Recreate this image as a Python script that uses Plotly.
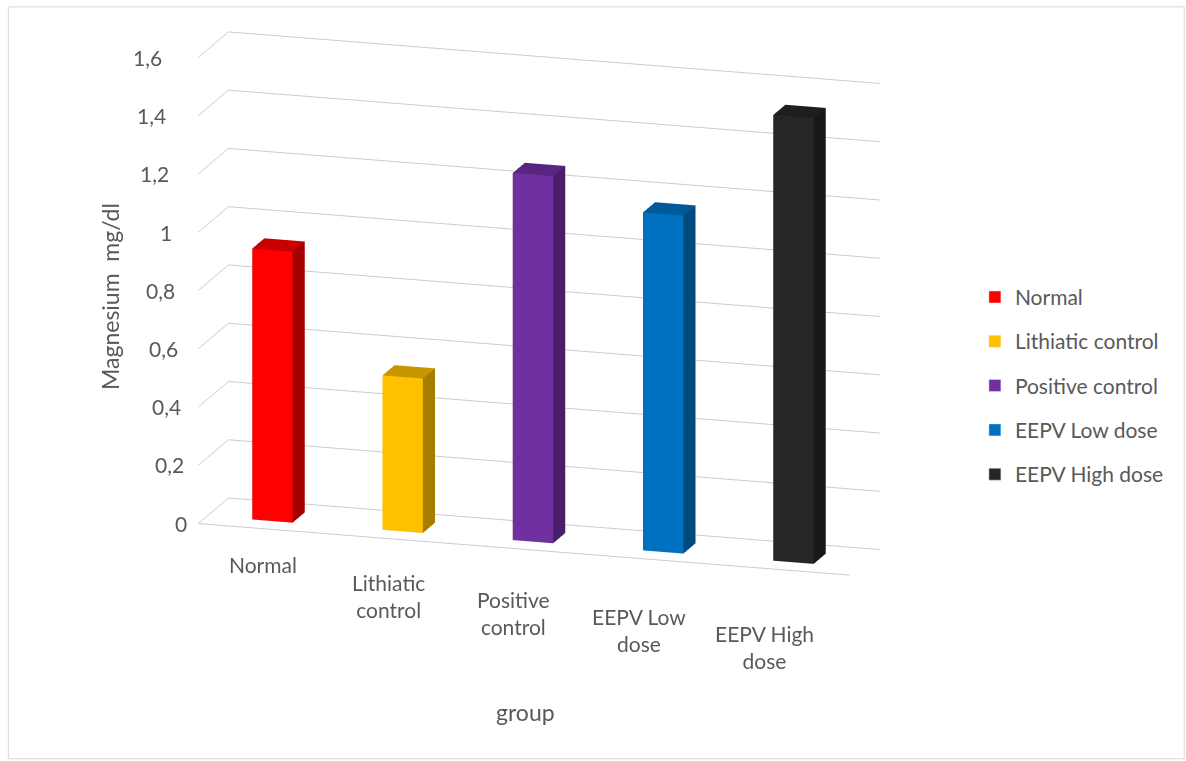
import math
import plotly.graph_objects as go

categories = ["Normal", "Lithiatic control", "Positive control", "EEPV Low dose", "EEPV High dose"]
tick_labels = ["Normal", "Lithiatic<br>control", "Positive<br>control", "EEPV Low<br>dose", "EEPV High<br>dose"]
values = [0.93, 0.53, 1.26, 1.16, 1.53]
front_colors = ["#FF0000", "#FFC000", "#7030A0", "#0070C0", "#262626"]
side_colors = ["#A50000", "#A67D00", "#4A1F69", "#004A7D", "#181818"]
top_colors = ["#C80000", "#C89600", "#582680", "#005A9A", "#1E1E1E"]
y_ticks = [0, 0.2, 0.4, 0.6, 0.8, 1.0, 1.2, 1.4, 1.6]
y_tick_text = ["0", "0,2", "0,4", "0,6", "0,8", "1", "1,2", "1,4", "1,6"]

BAR_W = 0.31
D0, D1 = 0.3, 0.7
TXT = "#595959"
FONT = "Lato"

fig = go.Figure()

tri_i = [0, 0, 3, 3, 0, 0, 1, 1, 4, 4, 0, 0]
tri_j = [1, 5, 2, 6, 3, 7, 2, 6, 5, 6, 1, 2]
tri_k = [5, 4, 6, 7, 7, 4, 6, 5, 6, 7, 2, 3]
roles = ["front", "front", "back", "back", "left", "left", "right", "right", "top", "top", "bottom", "bottom"]

for idx, (cat, v) in enumerate(zip(categories, values)):
    x0, x1 = idx - BAR_W / 2, idx + BAR_W / 2
    xs = [x0, x1, x1, x0, x0, x1, x1, x0]
    ys = [D0, D0, D1, D1, D0, D0, D1, D1]
    zs = [0, 0, 0, 0, v, v, v, v]
    fc = [front_colors[idx] if r == "front" else top_colors[idx] if r == "top" else side_colors[idx]
          for r in roles]
    fig.add_trace(go.Mesh3d(
        x=xs, y=ys, z=zs, i=tri_i, j=tri_j, k=tri_k,
        facecolor=fc, flatshading=True, showlegend=False, name=cat,
        lighting=dict(ambient=1.0, diffuse=0.0, specular=0.0, fresnel=0.0, roughness=1.0),
        hoverinfo="skip", scene="scene",
    ))

for idx, cat in enumerate(categories):
    fig.add_trace(go.Bar(x=[None], y=[None], name=cat, marker_color=front_colors[idx],
                         legendgroup=cat, xaxis="x", yaxis="y"))

ann3d = []
for idx, lab in enumerate(tick_labels):
    ann3d.append(dict(x=idx, y=0, z=0, text=lab, showarrow=False, yanchor="top", xanchor="center",
                      yshift=-22 - 7 * idx, xshift=-5 * idx,
                      font=dict(size=21, color=TXT, family=FONT)))
for k, (tv, tt) in enumerate(zip(y_ticks, y_tick_text)):
    ann3d.append(dict(x=-0.5, y=0, z=tv, text=tt, showarrow=False, xanchor="right", yanchor="middle",
                      xshift=-9 - 3.1 * k, font=dict(size=21, color=TXT, family=FONT)))

axis_common = dict(showbackground=False, showspikes=False, zeroline=False, title=dict(text=""))

phi = math.radians(17)
elev = math.radians(15)
dist = 1.8
eye = dict(x=dist * math.sin(phi) * math.cos(elev), y=-dist * math.cos(phi) * math.cos(elev),
           z=dist * math.sin(elev))

fig.update_layout(
    width=1186, height=761,
    margin=dict(l=0, r=0, t=0, b=0),
    paper_bgcolor="white", plot_bgcolor="white",
    font=dict(family=FONT, color=TXT, size=21),
    xaxis=dict(visible=False, domain=[0.95, 0.96]),
    yaxis=dict(visible=False, domain=[0.95, 0.96]),
    scene=dict(
        domain=dict(x=[0.0, 0.909], y=[0.203, 1.0]),
        xaxis=dict(range=[-0.5, 4.5], showgrid=False, showticklabels=False, showline=True,
                   linecolor="#CCCCCC", linewidth=2, **axis_common),
        yaxis=dict(range=[0, 1], showgrid=False, showticklabels=False, showline=False, **axis_common),
        zaxis=dict(range=[0, 1.6], tickvals=y_ticks, showgrid=True,
                   gridcolor="#CCCCCC", gridwidth=2, showline=False, showticklabels=False, **axis_common),
        aspectmode="manual", aspectratio=dict(x=2.244, y=0.34, z=1.59),
        camera=dict(eye=eye, center=dict(x=0, y=0, z=0),
                    up=dict(x=0, y=0, z=1), projection=dict(type="orthographic")),
        annotations=ann3d,
    ),
    legend=dict(x=0.822, y=0.493, xanchor="left", yanchor="middle",
                font=dict(size=21, color=TXT, family=FONT), tracegroupgap=14, itemwidth=30),
    annotations=[
        dict(text="Magnesium  mg/dl", x=110 / 1186, y=1 - 297 / 761, xref="paper", yref="paper",
             xanchor="center", yanchor="middle",
             showarrow=False, textangle=-90, font=dict(size=23, color=TXT, family=FONT)),
        dict(text="group", x=525 / 1186, y=1 - 712 / 761, xref="paper", yref="paper",
             xanchor="center", yanchor="middle",
             showarrow=False, font=dict(size=23, color=TXT, family=FONT)),
    ],
    shapes=[dict(type="rect", xref="paper", yref="paper", x0=0.007, y0=0.003, x1=0.9985, y1=0.991,
                 line=dict(color="#D9D9D9", width=1))],
)

fig.write_html("out.html")
